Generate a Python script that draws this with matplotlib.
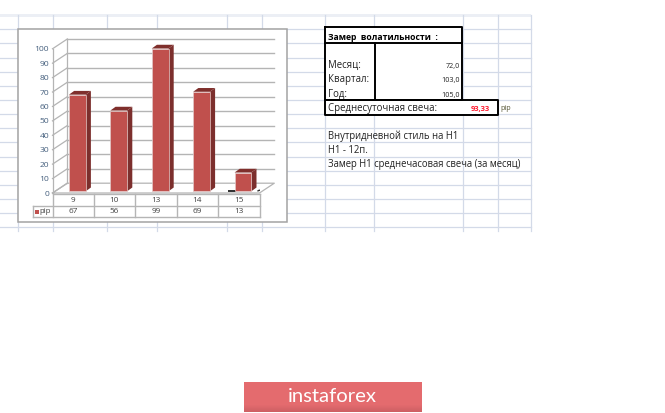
import matplotlib
matplotlib.use("Agg")
import matplotlib.pyplot as plt
import numpy as np
from matplotlib.patches import Rectangle

categories = ["9", "10", "13", "14", "15"]
values = [67, 56, 99, 69, 13]
y_ticks = [0, 10, 20, 30, 40, 50, 60, 70, 80, 90, 100]
series_name = "pip"
title_text = "Замер  волатильности  :"
row_labels = ["Месяц:", "Квартал:", "Год:"]
row_values = ["72,0", "103,0", "105,0"]
avg_label = "Среднесуточная свеча:"
avg_value = "93,33"
notes = ["Внутридневной стиль на Н1", "Н1 - 12п.", "Замер Н1 среднечасовая свеча (за месяц)"]

W, H = 665, 413
FONT = ["Open Sans", "DejaVu Sans"]
plt.rcParams["font.family"] = FONT
fig = plt.figure(figsize=(W / 100, H / 100), dpi=100, facecolor="white")

# page layer in pixel units
bg = fig.add_axes([0, 0, 1, 1])
bg.set_xlim(0, W)
bg.set_ylim(H, 0)
bg.axis("off")

GRID = "#d3dae8"
bg.add_patch(Rectangle((0, 14), 531, 2.5, fc="#eceff5", ec="none", zorder=1))
for k in range(15):
    y = 29.2 + 14.15 * k
    bg.plot([0, 531], [y, y], color=GRID, lw=0.9, zorder=1)
for x in [17.5, 53, 107, 157, 227, 262, 325, 374, 463, 498, 531]:
    bg.plot([x, x], [15, 231], color=GRID, lw=0.9, zorder=1)

# chart box
bg.add_patch(Rectangle((17.5, 29), 269.5, 193, fc="white", ec="#a3a3a3", lw=1.1, zorder=2))

# data table under the plot
TC = "#b5b5b5"
tx = [52.5, 93.7, 135, 176.5, 217.5, 259.5]
for y in [194, 205.5, 217]:
    bg.plot([52.5 if y == 194 else 32.5, 260], [y, y], color=TC, lw=1, zorder=3)
for x in tx:
    bg.plot([x, x], [194, 217], color=TC, lw=1, zorder=3)
bg.plot([32.5, 32.5], [205.5, 217], color=TC, lw=1, zorder=3)
for i, (c, v) in enumerate(zip(categories, values)):
    xc = (tx[i] + tx[i + 1]) / 2
    bg.text(xc, 200, c, ha="center", va="center", fontsize=5.9, color="#404040", zorder=4)
    bg.text(xc, 211.5, str(v), ha="center", va="center", fontsize=5.9, color="#404040", zorder=4)
bg.add_patch(Rectangle((35, 209.5), 4, 4, fc="#c0504d", ec="none", zorder=4))
bg.text(39.5, 211.5, series_name, ha="left", va="center", fontsize=5.6, color="#404040", zorder=4)

# sheet table
K = dict(color="black", zorder=5, solid_capstyle="projecting")
for xs, ys in [([325, 462, 462, 325, 325], [27, 27, 100, 100, 27]),
               ([325, 462], [43, 43]), ([374.5, 374.5], [43, 100]),
               ([325, 498, 498, 325, 325], [100, 100, 114.5, 114.5, 100])]:
    bg.plot(xs, ys, lw=1.4, **K)
bg.add_patch(Rectangle((325, 28), 137, 71, fc="white", ec="none", zorder=2))
bg.add_patch(Rectangle((325, 100), 173, 14.5, fc="white", ec="none", zorder=2))
TXT = "#222222"
bg.text(328, 37, title_text, fontsize=6.2, fontweight="bold", color="black", va="center", zorder=6)
for y, l, v in zip([65.5, 79.5, 94], row_labels, row_values):
    bg.text(328, y, l, fontsize=6.9, color=TXT, va="center", zorder=6)
    bg.text(460, y + 1, v, fontsize=5.2, color=TXT, va="center", ha="right", zorder=6)
bg.text(328, 108, avg_label, fontsize=6.9, color=TXT, va="center", zorder=6)
bg.text(489.5, 109, avg_value, fontsize=5.4, color="#ff1a2e", fontweight="bold", va="center", ha="right", zorder=6)
bg.text(500.5, 109, series_name, fontsize=5.2, color="#555533", va="center", zorder=6)
for y, n in zip([136.5, 150.5, 164.5], notes):
    bg.text(328, y, n, fontsize=6.85, color=TXT, va="center", zorder=6)

# banner
cols = np.ones((30, 1, 3)) * np.array([0.898, 0.42, 0.435])
cols[22:] = cols[22:] * np.linspace(1, 0.9, 8)[:, None, None]
bg.imshow(cols, extent=(244, 422, 412, 382), aspect="auto", zorder=3, interpolation="bilinear")
bg.set_xlim(0, W)
bg.set_ylim(H, 0)
bg.text(332.5, 396, "instaforex", color="white", fontsize=14.6, family=["Lato", "DejaVu Sans"],
        ha="center", va="center", zorder=6)

# plot layer: front plane of the 3D box
L, R, T, B = 52.5, 259.5, 48.8, 193.0
ax = fig.add_axes([L / W, 1 - B / H, (R - L) / W, (B - T) / H])
ax.patch.set_alpha(0)
ax.set_xlim(0, 5)
ax.set_ylim(0, 100)
for s in ax.spines.values():
    s.set_visible(False)
ax.set_xticks([])
ax.set_yticks(y_ticks)
ax.tick_params(axis="y", length=0, pad=2.5, labelsize=6.1, labelcolor="#46607e")

dx = 14.8 / (R - L) * 5      # depth, in axis units
dy = 9.8 / (B - T) * 100
GL = "#b4b4b4"
for t in y_ticks:
    ax.plot([0, dx], [t, t + dy], color=GL, lw=0.9, clip_on=False, zorder=1)
    if t > 0:
        ax.plot([dx, 5 + dx], [t + dy, t + dy], color=GL, lw=1.0, clip_on=False, zorder=1)
ax.plot([0, 0], [0, 100], color=GL, lw=0.9, clip_on=False, zorder=1)
ax.plot([dx, dx], [dy, 100 + dy], color=GL, lw=0.9, clip_on=False, zorder=1)
ax.plot([0, 5, 5 + dx, dx, 0], [0, 0, dy, dy, 0], color=GL, lw=0.9, clip_on=False, zorder=1)

xpos = np.arange(len(values)) + 0.5
shift, width, base = 0.1, 0.405, 1.2
sx, sy = 0.125, 2.6
# small shadow on the floor beside the shortest bar
ax.fill([4.24, 4.44, 4.44, 4.24], [0.9, 0.9, 2.0, 2.0], color="#333333", lw=0, zorder=2)
ax.fill([4.95, 5.14, 5.08, 4.95], [0.9, 2.6, 3.0, 2.0], color="#333333", lw=0, zorder=2)
for x, v in zip(xpos, values):
    x0 = x + shift - width / 2
    x1 = x0 + width
    top = base + v
    ax.fill([x1, x1 + sx, x1 + sx, x1], [base, base + sy, top + sy, top], color="#7c2f2d", lw=0, zorder=3, clip_on=False)
    ax.fill([x0, x1, x1 + sx, x0 + sx], [top, top, top + sy, top + sy], color="#7f2f2c", lw=0, zorder=3, clip_on=False)
ax.bar(xpos + shift, values, width=width, bottom=base, color="#c0504d", edgecolor="#e3c9c8", linewidth=0.5, zorder=4)

fig.savefig("out.png", dpi=100)
